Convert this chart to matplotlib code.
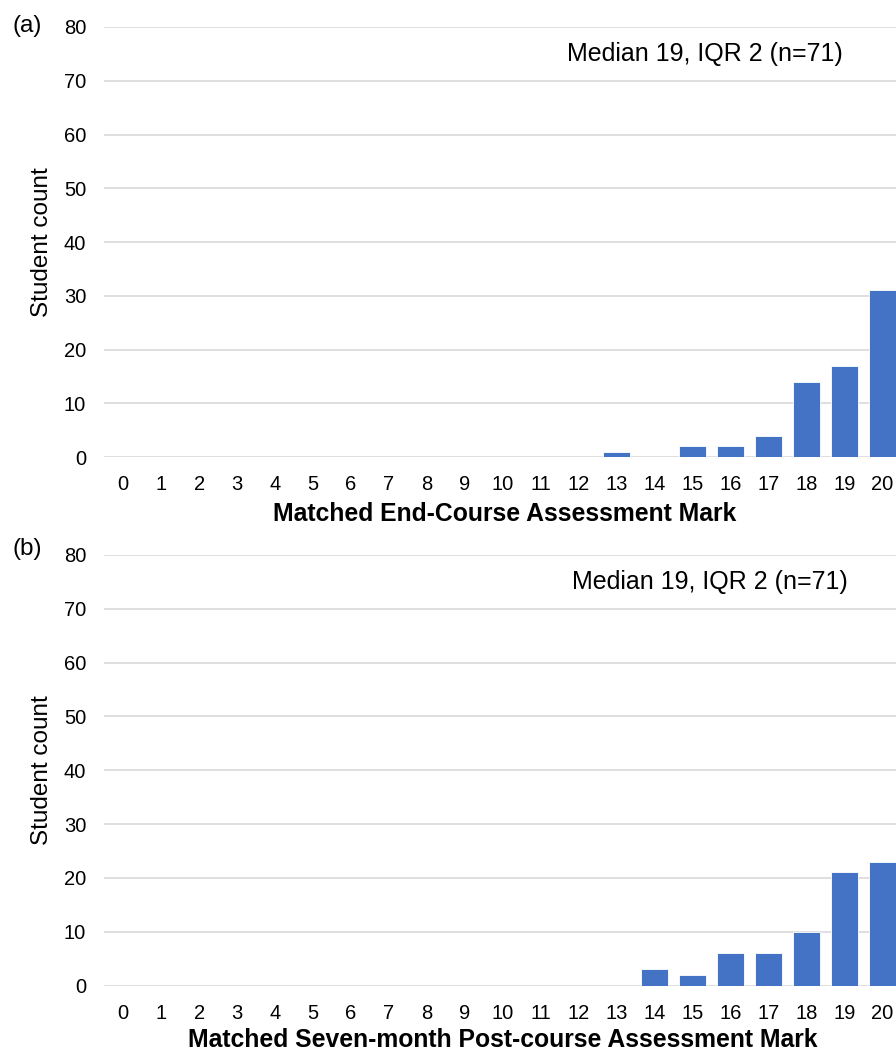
import matplotlib
matplotlib.use("Agg")
import matplotlib.pyplot as plt
import numpy as np

plt.rcParams['font.family'] = ['Liberation Sans', 'DejaVu Sans']

marks = list(range(0, 21))
end_course_counts = [0, 0, 0, 0, 0, 0, 0, 0, 0, 0, 0, 0, 0, 1, 0, 2, 2, 4, 14, 17, 31]
post_course_counts = [0, 0, 0, 0, 0, 0, 0, 0, 0, 0, 0, 0, 0, 0, 3, 2, 6, 6, 10, 21, 23]
panel_labels = ["(a)", "(b)"]
xlabels = ["Matched End-Course Assessment Mark",
           "Matched Seven-month Post-course Assessment Mark"]
annotations = ["Median 19, IQR 2 (n=71)", "Median 19, IQR 2 (n=71)"]
yticks = [0, 10, 20, 30, 40, 50, 60, 70, 80]

W, H = 896, 1052
fig = plt.figure(figsize=(W / 100, H / 100), dpi=100)

BAR = "#4472C4"
GRID = "#d9d9d9"

def px(x, y):
    return x / W, 1 - y / H

panels = [
    dict(top=27, bottom=457, counts=end_course_counts, ann=(705, 54), lab=(27, 26),
         xl=(505, 514)),
    dict(top=555, bottom=985.5, counts=post_course_counts, ann=(710, 582), lab=(27, 549),
         xl=(503, 1040)),
]
left = 104.3
for i, p in enumerate(panels):
    ax = fig.add_axes([left / W, 1 - p['bottom'] / H, (W - left) / W, (p['bottom'] - p['top']) / H])
    ax.bar(marks, p['counts'], width=0.72, color=BAR, edgecolor='white', linewidth=0.6, zorder=3)
    ax.set_xlim(-0.5, 20.36)
    ax.set_ylim(0, 80)
    ax.set_yticks(yticks)
    ax.set_xticks(marks)
    ax.set_xticklabels([str(m) for m in marks])
    ax.grid(axis='y', color=GRID, linewidth=1.2, zorder=0)
    ax.set_axisbelow(True)
    for s in ax.spines.values():
        s.set_visible(False)
    ax.tick_params(axis='both', length=0, labelsize=14.5, colors='#000000')
    ax.tick_params(axis='y', pad=13)
    ax.tick_params(axis='x', pad=13)
    ax.set_xlabel(xlabels[i], fontsize=17.8, fontweight='bold')
    hh = p['bottom'] - p['top']
    ax.xaxis.set_label_coords((p['xl'][0] - left) / (W - left), -(p['xl'][1] - p['bottom']) / hh)
    ax.xaxis.label.set_va('center')
    ax.set_ylabel("Student count", fontsize=17.5)
    ax.yaxis.set_label_coords((42 - left) / (W - left), 0.5)
    ax.yaxis.label.set_va('center')
    ax.yaxis.label.set_ha('center')
    x, y = px(*p['ann'])
    fig.text(x, y, annotations[i], fontsize=18, ha='center', va='center')
    x, y = px(*p['lab'])
    fig.text(x, y, panel_labels[i], fontsize=17.5, ha='center', va='center')

fig.savefig("out.png", dpi=100)
